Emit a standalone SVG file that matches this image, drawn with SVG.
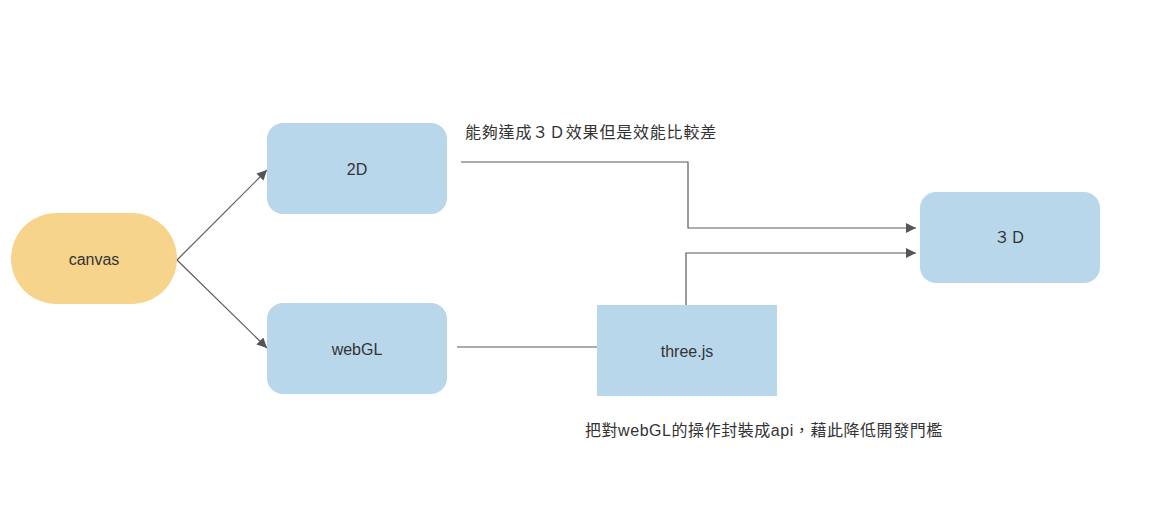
<svg xmlns="http://www.w3.org/2000/svg" width="1158" height="530" viewBox="0 0 1158 530">
<defs>
<marker id="arrow" viewBox="0 0 10 10" refX="10" refY="5" markerWidth="10" markerHeight="10" markerUnits="userSpaceOnUse" orient="auto">
<path d="M0,0 L10,5 L0,10 Z" fill="#555"/>
</marker>
</defs>
<style>
.box{fill:#b9d7eb;}
.pill{fill:#f6d48b;}
.lbl{font-family:"Liberation Sans","Noto Sans CJK TC",Arial,sans-serif;font-size:16px;fill:#333;text-anchor:middle;dominant-baseline:central;}
.note{font-family:"Liberation Sans","Noto Sans CJK TC",sans-serif;font-size:16px;fill:#333;}
.edge{fill:none;stroke:#5a5a5a;stroke-width:1.2;}
</style>
<rect width="1158" height="530" fill="#ffffff"/>
<g id="connectors">
<path class="edge" d="M177,260 L267,170" marker-end="url(#arrow)"/>
<path class="edge" d="M177,260 L267,348" marker-end="url(#arrow)"/>
<path class="edge" d="M461,162 L688,162 L688,228 L916,228" marker-end="url(#arrow)"/>
<path class="edge" d="M686,305 L686,253 L916,253" marker-end="url(#arrow)"/>
<path class="edge" d="M457,347 L597,347"/>
</g>
<g id="node-canvas">
<rect class="pill" x="11" y="213" width="166" height="91" rx="45.5" ry="45.5"/>
<text class="lbl" x="94" y="259">canvas</text>
</g>
<g id="node-2d">
<rect class="box" x="267" y="123" width="180" height="91" rx="16" ry="16"/>
<text class="lbl" x="357" y="169">2D</text>
</g>
<g id="node-webgl">
<rect class="box" x="267" y="303" width="180" height="91" rx="16" ry="16"/>
<text class="lbl" x="357" y="349">webGL</text>
</g>
<g id="node-3d">
<rect class="box" x="920" y="192" width="180" height="91" rx="16" ry="16"/>
<text class="lbl" x="1010" y="237">３Ｄ</text>
</g>
<g id="node-threejs">
<rect class="box" x="597" y="305" width="180" height="91"/>
<text class="lbl" x="687" y="351">three.js</text>
</g>
<g id="notes">
<text class="note" x="465" y="138" letter-spacing="0.8">能夠達成３Ｄ效果但是效能比較差</text>
<text class="note" x="585" y="436" letter-spacing="0.55">把對webGL的操作封裝成api，藉此降低開發門檻</text>
</g>
</svg>
